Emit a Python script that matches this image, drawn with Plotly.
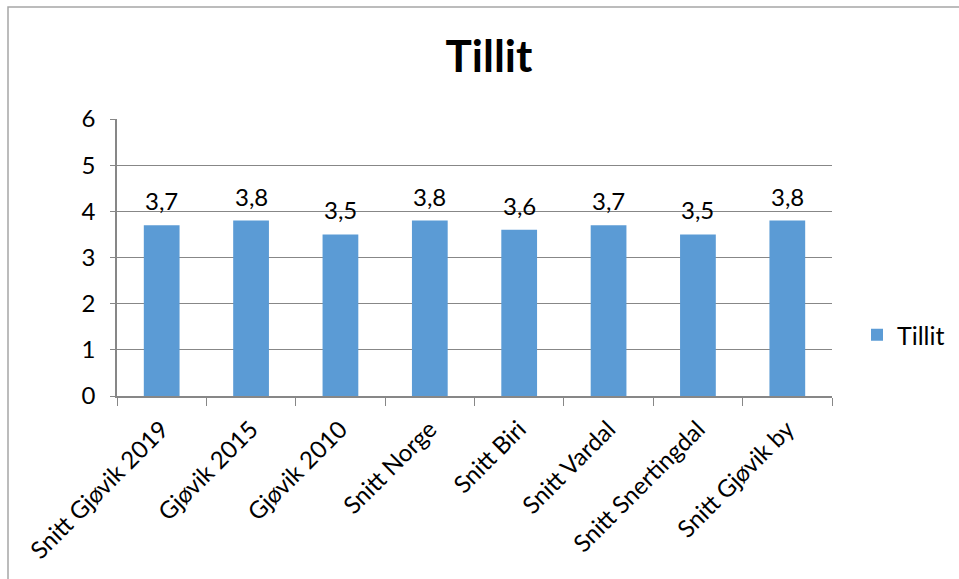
import plotly.graph_objects as go

categories = ["Snitt Gjøvik 2019", "Gjøvik 2015", "Gjøvik 2010", "Snitt Norge",
              "Snitt Biri", "Snitt Vardal", "Snitt Snertingdal", "Snitt Gjøvik by"]
values = [3.7, 3.8, 3.5, 3.8, 3.6, 3.7, 3.5, 3.8]
series_name = "Tillit"
y_ticks = [0, 1, 2, 3, 4, 5, 6]

FONT = "Lato, Open Sans, sans-serif"
W, H = 959, 579
L, R, T, B = 117, 127, 119, 183
pw, ph = W - L - R, H - T - B

fig = go.Figure()
fig.add_trace(go.Bar(
    x=categories, y=values, name=series_name,
    marker=dict(color="#5B9BD5", line=dict(width=0)),
    showlegend=True,
))
for c, v in zip(categories, values):
    fig.add_annotation(x=c, y=v, text=f"{v:.1f}".replace(".", ","), showarrow=False,
                       yanchor="bottom", yshift=8,
                       font=dict(size=24, family=FONT, color="#000000"))

fig.update_layout(
    width=W, height=H,
    margin=dict(l=L, r=R, t=T, b=B, autoexpand=False),
    paper_bgcolor="white", plot_bgcolor="white",
    separators=",.",
    font=dict(family=FONT, color="#000000"),
    title=dict(text="<b>Tillit</b>", x=489 / W, xanchor="center", xref="container",
               y=1 - 57 / H, yanchor="middle", yref="container",
               font=dict(size=44, family=FONT, color="#000000")),
    bargap=0.6,
    legend=dict(x=(857 - L) / pw, y=(396 - 335) / ph, xanchor="left", yanchor="middle",
                font=dict(size=25, family=FONT), bgcolor="rgba(0,0,0,0)",
                itemwidth=30),
    xaxis=dict(showline=True, linecolor="#878787", linewidth=1.5,
               ticks="outside", tickson="boundaries", ticklen=8, tickcolor="#878787",
               tickangle=-45, tickfont=dict(size=24, family=FONT),
               ticklabelstandoff=8, showgrid=False),
    yaxis=dict(range=[0, 6], tickvals=y_ticks, showline=True, linecolor="#878787", linewidth=1.5,
               ticks="outside", ticklen=5, tickcolor="#878787",
               showgrid=True, gridcolor="#878787", gridwidth=1,
               tickfont=dict(size=24, family=FONT), ticklabelstandoff=10, zeroline=False),
    shapes=[dict(type="rect", xref="paper", yref="paper",
                 x0=(8 - L) / pw, x1=(1200 - L) / pw,
                 y0=-(800 - H + B) / ph, y1=1 + (T - 7) / ph,
                 line=dict(color="#A6A6A6", width=1.5), fillcolor="rgba(0,0,0,0)",
                 layer="below")],
)

fig.write_html("out.html")
